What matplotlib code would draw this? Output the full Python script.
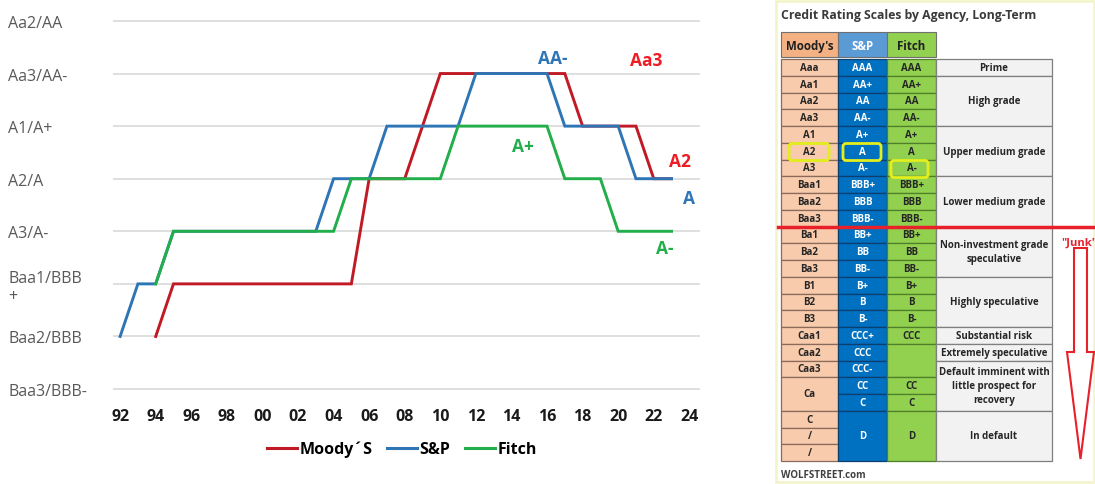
import numpy as np
import matplotlib.pyplot as plt
from matplotlib.patches import Rectangle, FancyBboxPatch, Polygon
from matplotlib.lines import Line2D

plt.rcParams['font.family'] = ['Open Sans', 'DejaVu Sans']

nan = np.nan

# rating levels: 0 = Baa3/BBB- ... 7 = Aa2/AA
years = list(range(1992, 2024))
moodys = [nan, nan, 1, 2, 2, 2, 2, 2, 2, 2, 2, 2, 2, 2, 4, 4, 4, 5,
          6, 6, 6, 6, 6, 6, 6, 6, 5, 5, 5, 5, 4, 4]
sp = [1, 2, 2, 3, 3, 3, 3, 3, 3, 3, 3, 3, 4, 4, 4, 5,
      5, 5, 5, 5, 6, 6, 6, 6, 6, 5, 5, 5, 5, 4, 4, 4]
fitch = [nan, nan, 2, 3, 3, 3, 3, 3, 3, 3, 3, 3, 3, 4, 4, 4,
         4, 4, 4, 5, 5, 5, 5, 5, 5, 4, 4, 4, 3, 3, 3, 3]

rating_labels = ['Baa3/BBB-', 'Baa2/BBB', 'Baa1/BBB\n+', 'A3/A-', 'A2/A',
                 'A1/A+', 'Aa3/AA-', 'Aa2/AA']
xtick_years = list(range(1992, 2025, 2))
xtick_labels = [str(y)[2:] for y in xtick_years]

series_names = ['Moody\u00b4S', 'S&P', 'Fitch']
line_colors = ['#c01a24', '#2e75b6', '#22ae4a']
label_colors = ['#ee1c25', '#2e75b6', '#22ae4a']

# end labels: (text, series index, year, level)
end_labels = [('AA-', 1, 2016.3, 6.3), ('Aa3', 0, 2021.6, 6.25),
              ('A+', 2, 2014.65, 4.62), ('A2', 0, 2023.5, 4.34),
              ('A', 1, 2024.0, 3.63), ('A-', 2, 2022.6, 2.68)]

# rating scale table
moody_cells = [('Aaa', 1), ('Aa1', 1), ('Aa2', 1), ('Aa3', 1), ('A1', 1), ('A2', 1),
               ('A3', 1), ('Baa1', 1), ('Baa2', 1), ('Baa3', 1), ('Ba1', 1), ('Ba2', 1),
               ('Ba3', 1), ('B1', 1), ('B2', 1), ('B3', 1), ('Caa1', 1), ('Caa2', 1),
               ('Caa3', 1), ('Ca', 2), ('C', 1), ('/', 1), ('/', 1)]
sp_cells = [('AAA', 1), ('AA+', 1), ('AA', 1), ('AA-', 1), ('A+', 1), ('A', 1),
            ('A-', 1), ('BBB+', 1), ('BBB', 1), ('BBB-', 1), ('BB+', 1), ('BB', 1),
            ('BB-', 1), ('B+', 1), ('B', 1), ('B-', 1), ('CCC+', 1), ('CCC', 1),
            ('CCC-', 1), ('CC', 1), ('C', 1), ('D', 3)]
fitch_cells = [('AAA', 1), ('AA+', 1), ('AA', 1), ('AA-', 1), ('A+', 1), ('A', 1),
               ('A-', 1), ('BBB+', 1), ('BBB', 1), ('BBB-', 1), ('BB+', 1), ('BB', 1),
               ('BB-', 1), ('B+', 1), ('B', 1), ('B-', 1), ('CCC', 1), ('', 2),
               ('CC', 1), ('C', 1), ('D', 3)]
desc_cells = [('Prime', 1), ('High grade', 3), ('Upper medium grade', 3),
              ('Lower medium grade', 3), ('Non-investment grade\nspeculative', 3),
              ('Highly speculative', 3), ('Substantial risk', 1),
              ('Extremely speculative', 1),
              ('Default imminent with\nlittle prospect for\nrecovery', 3),
              ('In default', 3)]

fig = plt.figure(figsize=(10.95, 4.85), dpi=100)

# ---- table (pixel coordinates) ----
tb = fig.add_axes([0, 0, 1, 1])
tb.set_xlim(0, 1095)
tb.set_ylim(485, 0)
tb.axis('off')
tb.patch.set_visible(False)

tb.add_patch(Rectangle((776, 2), 318, 481, facecolor='white', edgecolor='#f4f4cc', lw=2))
tb.text(781, 15, 'Credit Rating Scales by Agency, Long-Term', fontsize=8.8,
        weight='bold', color='#3a3a3a', va='center', ha='left')

cols = [(781, 838), (838, 887), (887, 936), (936, 1052)]
head_top, head_bot = 33, 58
body_top, row_h = 60, 16.75

headers = [('Moody\'s', '#f4b183', '#202020'), ('S&P', '#5b9bd5', 'white'),
           ('Fitch', '#92d050', '#202020')]
for (x0, x1), (txt, fc, tc) in zip(cols, headers):
    tb.add_patch(Rectangle((x0, head_top), x1 - x0, head_bot - head_top,
                           facecolor=fc, edgecolor='#707070', lw=0.8))
    tb.text((x0 + x1) / 2, (head_top + head_bot) / 2 + 1, txt, ha='center',
            va='center', fontsize=8.3, weight='bold', color=tc)


def column(x0, x1, cells, face, edge, tcolor, size):
    r = 0
    for label, n in cells:
        y0 = body_top + r * row_h
        tb.add_patch(Rectangle((x0, y0), x1 - x0, n * row_h, facecolor=face,
                               edgecolor=edge, lw=0.9))
        tb.text((x0 + x1) / 2, y0 + n * row_h / 2, label, ha='center', va='center',
                fontsize=size, weight='bold', color=tcolor, linespacing=1.35)
        r += n


column(*cols[0], moody_cells, '#f8cbad', '#8a6a58', '#262626', 7)
column(*cols[1], sp_cells, '#0070c0', '#0b3f70', 'white', 7)
column(*cols[2], fitch_cells, '#92d050', '#4f7f28', '#262626', 7)
column(*cols[3], desc_cells, '#f2f2f2', '#7f7f7f', '#262626', 7)

# highlight boxes around the current ratings
for hx, hy, hw in [(789, 144.5, 40), (843, 144.5, 38), (891, 161.5, 37)]:
    tb.add_patch(FancyBboxPatch((hx, hy), hw, 17, boxstyle='round,pad=0,rounding_size=3',
                                facecolor='none', edgecolor='#e3ef1c', lw=2))

# investment grade divider and junk arrow
tb.plot([778, 1095], [228, 228], color='#e8202a', lw=2.5)
tb.text(1079, 243, '"Junk"', color='#e8202a', fontsize=8, weight='bold',
        ha='center', va='center')
tb.add_patch(Polygon([(1074, 249), (1087, 249), (1087, 353), (1094, 353), (1080.5, 460),
                      (1067, 353), (1074, 353)], closed=True, facecolor='white',
                     edgecolor='#e8202a', lw=1.5))
tb.text(781, 476, 'WOLFSTREET.com', fontsize=7, weight='bold', color='#404040',
        ha='left', va='center')

# ---- line chart ----
ax = fig.add_axes([113 / 1095, (485 - 395.3) / 485, 587 / 1095, (395.3 - 16.7) / 485])
for vals, c in zip([moodys, sp, fitch], line_colors):
    ax.plot(years, vals, color=c, lw=2.1, solid_joinstyle='miter')

ax.set_xlim(1991.6, 2024.6)
ax.set_ylim(-0.1, 7.1)
ax.set_yticks(range(len(rating_labels)))
ax.set_yticklabels(rating_labels, ha='left', fontsize=11.5, color='#595959')
ax.tick_params(axis='y', length=0, pad=75.6)
ax.set_xticks(xtick_years)
ax.set_xticklabels(xtick_labels, fontsize=11.5, weight='bold', color='#1a1a1a')
ax.tick_params(axis='x', length=0, pad=10)
ax.grid(axis='y', color='#d9d9d9', lw=1.2)
ax.set_axisbelow(True)
for s in ax.spines.values():
    s.set_visible(False)

for txt, si, x, y in end_labels:
    ax.text(x, y, txt, color=label_colors[si], fontsize=12.5, weight='bold',
            ha='center', va='center', clip_on=False)

handles = [Line2D([], [], color=c, lw=2.2) for c in line_colors]
fig.legend(handles, series_names, loc='center', bbox_to_anchor=(402 / 1095, 1 - 450 / 485),
           ncol=3, frameon=False, handlelength=1.9, handletextpad=0.15,
           columnspacing=0.9, prop=dict(weight='bold', size=11.5))

fig.savefig('out.png', dpi=100)
